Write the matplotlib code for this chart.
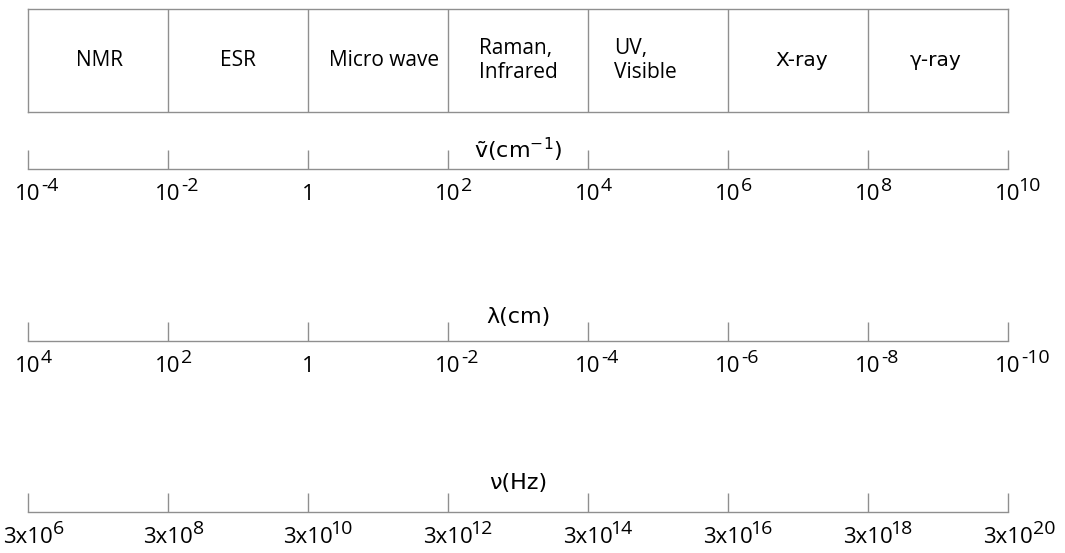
import matplotlib
matplotlib.use('Agg')
from matplotlib import pyplot as plt

# regions of the spectrum (top boxes)
regions = ['NMR', 'ESR', 'Micro wave', 'Raman,\nInfrared', 'UV,\nVisible', 'X-ray', 'γ-ray']
region_shift = [0.01, 0.0, 0.04, 0.0, -0.09, 0.03, -0.02]

# scale rows: title, base text, exponents
wavenumber_title = 'ṽ(cm$^{-1}$)'
wavenumber_exp = [-4, -2, 0, 2, 4, 6, 8, 10]
wavelength_title = 'λ(cm)'
wavelength_exp = [4, 2, 0, -2, -4, -6, -8, -10]
frequency_title = 'ν(Hz)'
frequency_exp = [6, 8, 10, 12, 14, 16, 18, 20]

GREY = '#8f8f8f'
LABEL_FONT = ['Open Sans', 'DejaVu Sans']
TITLE_FONT = ['DejaVu Sans']

W, H = 1065, 553
fig = plt.figure(figsize=(W / 100, H / 100), dpi=100)

left = 28 / W
width = 980 / W


def style_spines(ax, visible):
    for name, spine in ax.spines.items():
        spine.set_visible(name in visible)
        spine.set_color(GREY)
        spine.set_linewidth(1.0)


# ---- boxes ----
box = fig.add_axes([left, (H - 112) / H, width, 103 / H])
box.set_xlim(0, len(regions))
box.set_ylim(0, 1)
style_spines(box, ['left', 'right', 'top', 'bottom'])
box.set_xticks([])
box.set_yticks([])
for i in range(1, len(regions)):
    box.axvline(i, color=GREY, lw=1.0)
for i, (name, dx) in enumerate(zip(regions, region_shift)):
    if name in ('X-ray', 'γ-ray'):
        fam, size = TITLE_FONT, 14.5
    else:
        fam, size = LABEL_FONT, 15
    box.text(i + 0.5 + dx, 0.5, name, ha='center', va='center', fontsize=size,
             family=fam, multialignment='left', linespacing=1.2)


def scale_row(y_line, title, exps, prefix, title_pad):
    ax = fig.add_axes([left, (H - y_line) / H, width, 0.0001])
    ax.set_xlim(0, len(exps) - 1)
    ax.set_ylim(0, 1)
    style_spines(ax, ['bottom'])
    ax.set_yticks([])
    ax.set_xticks(range(len(exps)))
    ax.tick_params(axis='x', direction='in', length=13.7, width=1.0, color=GREY,
                   labelbottom=False)
    ax.set_title(title, fontsize=16, family=TITLE_FONT, pad=title_pad, x=0.5)
    for i, e in enumerate(exps):
        base_txt = '1' if (e == 0 and prefix == '') else prefix + '10'
        base = ax.annotate(base_txt, xy=(i, 0), xycoords=('data', 'axes fraction'),
                           xytext=(0, -10.5), textcoords='offset points',
                           ha='center', va='top', fontsize=16, family=LABEL_FONT,
                           annotation_clip=False)
        if base_txt != '1':
            sup = str(e)
            # the "1" glyph carries a wide left bearing
            gap = -1.6 if sup.startswith('1') else 0.2
            ax.annotate(sup, xy=(1, 0.66), xycoords=base,
                        xytext=(gap, 0), textcoords='offset points',
                        ha='left', va='baseline', fontsize=14, family=LABEL_FONT,
                        annotation_clip=False)
    return ax


scale_row(169, wavenumber_title, wavenumber_exp, '', 8)
scale_row(341, wavelength_title, wavelength_exp, '', 13)
scale_row(512, frequency_title, frequency_exp, '3x', 16.5)

fig.savefig('out.png', dpi=100)
